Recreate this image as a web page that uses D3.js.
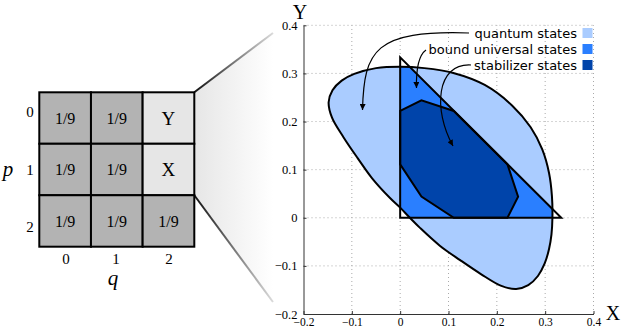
<!DOCTYPE html>
<html><head><meta charset="utf-8">
<script src="https://cdn.jsdelivr.net/npm/d3@7"></script>
<style>body{margin:0;background:#fff}svg{display:block}</style>
</head><body><svg id="c" width="622" height="330"></svg>
<script>
// ---------- data ----------
const gridRows = [0, 1, 2];
const gridCols = [0, 1, 2];
const cellLabels = [["1/9","1/9","Y"],["1/9","1/9","X"],["1/9","1/9","1/9"]];
const highlighted = [[0,2],[1,2]];
const xTicks = [-0.2,-0.1,0,0.1,0.2,0.3,0.4];
const yTicks = [-0.2,-0.1,0,0.1,0.2,0.3,0.4];
const legendLabels = ["quantum states","bound universal states","stabilizer states"];
const legendColors = ["#aaccff","#2a7fff","#0044aa"];
// quantum-state boundary (X, Y)
const quantumX = [0,0.05,0.110,0.175,0.232,0.270,0.294,0.308,0.314,0.315,0.313,0.308,0.299,0.285,0.265,0.240,0.208,0.167,0.124,0.082,0.041,0.020,0,-0.021,-0.058,-0.088,-0.117,-0.141,-0.148,-0.140,-0.121,-0.095,-0.050];
const quantumY = [0.314,0.311,0.301,0.276,0.233,0.188,0.142,0.093,0.045,0.0,-0.035,-0.065,-0.095,-0.121,-0.140,-0.148,-0.141,-0.117,-0.088,-0.058,-0.021,0.0,0.021,0.041,0.082,0.124,0.167,0.208,0.240,0.265,0.285,0.299,0.311];
// bound universal (Wigner-positive) triangle
const triangleX = [0, 0, 0.3333];
const triangleY = [0, 0.3333, 0];
// stabilizer polytope
const stabX = [0, 0.044, 0.111, 0.222, 0.244, 0.222, 0.111, 0.044, 0];
const stabY = [0.222, 0.244, 0.222, 0.111, 0.044, 0, 0, 0.044, 0.111];

// ---------- drawing ----------
const svg = d3.select("#c");
const serif = "Liberation Serif, Times New Roman, serif";
const sans = "DejaVu Sans, sans-serif";

// left grid
const gx = d3.scaleBand().domain(gridCols).range([39.3, 194.3]);
const gy = d3.scaleBand().domain(gridRows).range([92.3, 246.7]);
const defs = svg.append("defs");
const fg = defs.append("linearGradient").attr("id","fade").attr("x1","0").attr("x2","1").attr("y1","0").attr("y2","0");
fg.append("stop").attr("offset","0").attr("stop-color","#e6e6e6");
fg.append("stop").attr("offset","1").attr("stop-color","#ffffff");
const lgT = defs.append("linearGradient").attr("id","lineFade").attr("gradientUnits","userSpaceOnUse")
  .attr("x1",194).attr("x2",274).attr("y1",0).attr("y2",0);
lgT.append("stop").attr("offset","0").attr("stop-color","#111");
lgT.append("stop").attr("offset","1").attr("stop-color","#ddd");

const gR = gx.range()[1];
svg.append("path")
  .attr("d", `M${gR},${gy(0)}L273,33L273,302L${gR},${gy(2)}Z`)
  .attr("fill","url(#fade)");
svg.append("path").attr("d", `M${gR},${gy(0)}L273,33`).attr("stroke","url(#lineFade)").attr("stroke-width",2).attr("fill","none");
svg.append("path").attr("d", `M${gR},${gy(2)}L273,302`).attr("stroke","url(#lineFade)").attr("stroke-width",2).attr("fill","none");

const isHi = (r,c) => highlighted.some(h => h[0]===r && h[1]===c);
gridRows.forEach(r => gridCols.forEach(c => {
  svg.append("rect").attr("x", gx(c)).attr("y", gy(r)).attr("width", gx.bandwidth()).attr("height", gy.bandwidth())
    .attr("fill", isHi(r,c) ? "#e6e6e6" : "#b3b3b3").attr("stroke","#000").attr("stroke-width",2);
  const lab = cellLabels[r][c];
  svg.append("text").attr("x", gx(c)+gx.bandwidth()/2).attr("y", gy(r)+gy.bandwidth()/2)
    .attr("dy","0.35em").attr("text-anchor","middle").attr("font-family",serif)
    .attr("font-size", lab.length===1 ? 19 : 16).text(lab);
}));
const rowLabelY = [111.7, 170, 226.7];
gridRows.forEach((r,i) => svg.append("text").attr("x",30).attr("y",rowLabelY[i]).attr("dy","0.35em")
  .attr("text-anchor","middle").attr("font-family",serif).attr("font-size",15).text(r));
const colLabelX = [66, 116, 169];
gridCols.forEach((c,i) => svg.append("text").attr("x",colLabelX[i]).attr("y",258.5).attr("dy","0.35em")
  .attr("text-anchor","middle").attr("font-family",serif).attr("font-size",15).text(c));
svg.append("text").attr("x",8).attr("y",170).attr("dy","0.3em").attr("text-anchor","middle")
  .attr("font-family",serif).attr("font-style","italic").attr("font-size",21).text("p");
svg.append("text").attr("x",113).attr("y",279).attr("dy","0.3em").attr("text-anchor","middle")
  .attr("font-family",serif).attr("font-style","italic").attr("font-size",21).text("q");

// plot
const x = d3.scaleLinear().domain([-0.2,0.4]).range([303.5,593.5]);
const y = d3.scaleLinear().domain([-0.2,0.4]).range([314,25.3]);
const fmt = d => d===0 ? "0" : d3.format(".1f")(d);

const grid = svg.append("g").attr("stroke","#aaa").attr("stroke-width",1).attr("stroke-dasharray","1,3");
xTicks.filter(t => t > -0.2).forEach(t => grid.append("line").attr("x1",x(t)).attr("x2",x(t)).attr("y1",y(-0.2)).attr("y2",y(0.4)));
yTicks.filter(t => t > -0.2).forEach(t => grid.append("line").attr("x1",x(-0.2)).attr("x2",x(0.4)).attr("y1",y(t)).attr("y2",y(t)));

const line = d3.line().x(d => x(d[0])).y(d => y(d[1]));
const qPts = quantumX.map((v,i) => [v, quantumY[i]]);
const qPath = d3.line().x(d => x(d[0])).y(d => y(d[1])).curve(d3.curveCatmullRomClosed.alpha(0.5))(qPts);
const tPts = triangleX.map((v,i) => [v, triangleY[i]]);
const sPts = stabX.map((v,i) => [v, stabY[i]]);

defs.append("clipPath").attr("id","qclip").append("path").attr("d", qPath);
svg.append("path").attr("d", qPath).attr("fill", legendColors[0]);
svg.append("path").attr("d", line(tPts)+"Z").attr("fill", legendColors[1]).attr("clip-path","url(#qclip)");
svg.append("path").attr("d", line(sPts)+"Z").attr("fill", legendColors[2]);
svg.append("path").attr("d", qPath).attr("fill","none").attr("stroke","#000").attr("stroke-width",2);
svg.append("path").attr("d", line(tPts)+"Z").attr("fill","none").attr("stroke","#000").attr("stroke-width",2).attr("stroke-linejoin","miter");
svg.append("path").attr("d", line(sPts)+"Z").attr("fill","none").attr("stroke","#000").attr("stroke-width",2);

// axes
const ax = svg.append("g").attr("transform",`translate(0,${y(-0.2)})`)
  .call(d3.axisBottom(x).tickValues(xTicks).tickFormat(fmt).tickSizeInner(-3).tickSizeOuter(0).tickPadding(4));
const ay = svg.append("g").attr("transform",`translate(${x(-0.2)},0)`)
  .call(d3.axisLeft(y).tickValues(yTicks).tickFormat(fmt).tickSizeInner(-3).tickSizeOuter(0).tickPadding(6));
[ax, ay].forEach(a => {
  a.attr("font-family", serif);
  a.selectAll("text").attr("font-family",serif).attr("font-size",12.5).attr("fill","#000");
  a.selectAll("line,path").attr("stroke","#333");
});
ax.selectAll("text").attr("font-size",11.5);
svg.append("text").attr("x",300).attr("y",12).attr("dy","0.35em").attr("text-anchor","middle")
  .attr("font-family",serif).attr("font-size",20).text("Y");
svg.append("text").attr("x",613).attr("y",313).attr("dy","0.35em").attr("text-anchor","middle")
  .attr("font-family",serif).attr("font-size",20).text("X");

// legend
const legY = [33, 49, 65];
legendLabels.forEach((l,i) => {
  svg.append("text").attr("x",577).attr("y",legY[i]).attr("dy","0.35em").attr("text-anchor","end")
    .attr("font-family",sans).attr("font-size",13).attr("fill","#000").text(l);
  svg.append("rect").attr("x",582.5).attr("y",legY[i]-5).attr("width",10).attr("height",10).attr("fill",legendColors[i]);
});

// arrows
defs.append("marker").attr("id","ah").attr("viewBox","0 0 10 10").attr("refX",10).attr("refY",5)
  .attr("markerWidth",7).attr("markerHeight",6).attr("markerUnits","userSpaceOnUse").attr("orient","auto")
  .append("path").attr("d","M0,0L10,5L0,10Z").attr("fill","#000");
const arrows = [
  "M469,33C375,30 364,50 362.5,110",
  "M426,50C419,55 416,68 416.5,88",
  "M471,65C436,63 433,110 453,146"
];
arrows.forEach(a => svg.append("path").attr("d",a).attr("fill","none").attr("stroke","#000")
  .attr("stroke-width",1.2).attr("marker-end","url(#ah)"));
</script></body></html>
